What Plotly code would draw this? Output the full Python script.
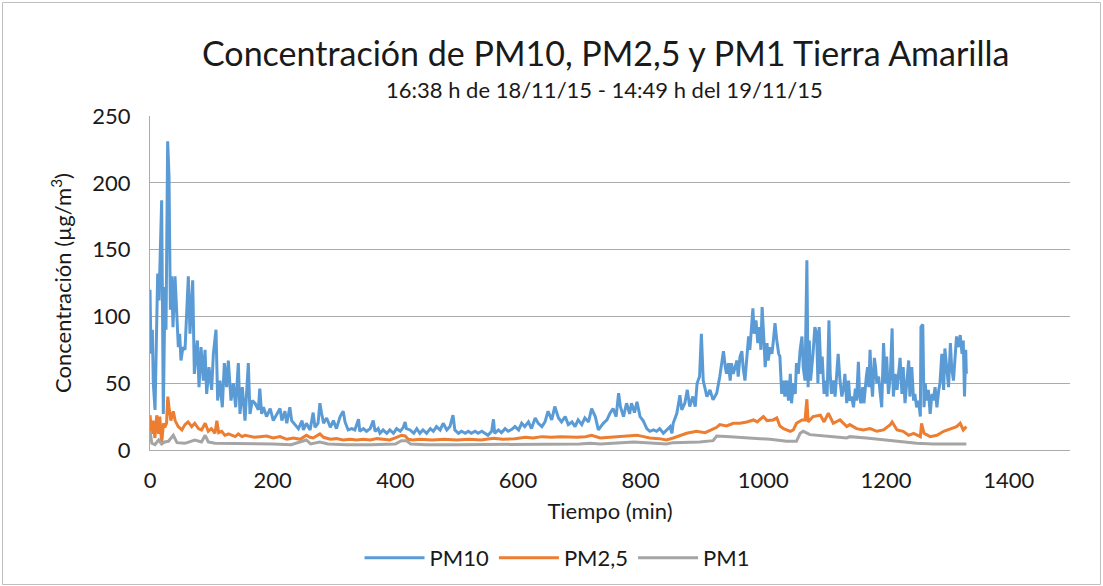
import plotly.graph_objects as go

# ---------------- data ----------------
pm10_t = [0, 1.6, 3.8, 5.4, 8.2, 12.5, 14.7, 19.0, 21.7, 24.5, 26.1, 28.8, 31.0, 33.2, 35.3, 37.5,
          40.8, 44.0, 46.2, 48.4, 50.5, 53.8, 57.1, 62.5, 65.2, 69.6, 72.3, 77.2, 79.9, 83.2, 87.0,
          89.7, 92.4, 96.2, 100.5, 103.3, 107.6, 110.3, 114.1, 117.9, 121.2, 125.0, 127.7, 132.1,
          135.9, 139.7, 144.0, 146.7, 150.5, 154.9, 160.3, 163.0, 166.8, 171.2, 176.6,
          179, 182, 185, 190, 196, 201, 207, 212, 215, 220, 223, 228, 231, 236, 242, 248, 250, 255,
          261, 266, 269, 274, 277, 280, 283, 288, 294, 299, 304, 310, 315, 318, 323, 329, 334, 340,
          342, 348, 353, 359, 364, 367, 372, 375, 380, 386, 391, 397, 402, 408, 413, 416, 418,
          424, 430, 435, 440, 445, 451, 457, 462, 467, 473, 478, 484, 489, 494, 497, 503, 508, 514,
          519, 524, 530, 535, 541, 546, 551, 557, 560, 562, 568, 573, 579, 584, 590, 595, 601, 606,
          611, 617, 622, 628, 633, 639, 644, 649, 655, 660, 666, 671, 677, 682, 688, 693, 698, 704,
          709, 715, 720, 726, 731,
          739, 745, 750, 755, 760, 764, 767, 772, 777, 782, 785, 790, 794, 799, 804, 810, 815, 821,
          826, 831, 837, 842, 848, 851, 853, 859, 864, 867, 872, 876, 880, 885, 889, 892, 896, 899,
          902, 908, 913, 918, 924,
          929, 935, 938, 940, 943, 946, 948, 951, 954, 957, 959, 962, 965, 967, 970, 973, 976, 978,
          981, 983, 985, 988, 991, 994, 996, 998, 1001, 1003, 1006, 1008, 1011, 1014, 1016, 1019,
          1022, 1025, 1027, 1030, 1033, 1035, 1038, 1041, 1044, 1046, 1049, 1052, 1054, 1057, 1060,
          1063, 1065, 1068, 1071, 1073, 1075, 1077, 1081, 1084, 1087, 1089, 1091, 1094, 1096, 1099,
          1102, 1104, 1107, 1109, 1111, 1114, 1117, 1120, 1122, 1125, 1128, 1131, 1133, 1136, 1139,
          1141, 1144, 1147, 1150, 1152, 1155, 1157, 1159, 1162, 1164, 1168, 1170, 1172, 1174, 1176,
          1178, 1181, 1183, 1185, 1188, 1190, 1193, 1196, 1199, 1201, 1204, 1207, 1210, 1212, 1215,
          1218, 1220, 1223, 1226, 1228, 1231, 1234, 1237, 1239, 1242, 1245, 1247, 1250, 1253, 1256,
          1257, 1260, 1262, 1264, 1266, 1269, 1272, 1275, 1277, 1280, 1283, 1286, 1288, 1291, 1294,
          1296, 1299, 1302, 1305, 1307, 1310, 1313, 1315, 1318, 1321, 1324, 1326, 1328, 1330, 1331]
pm10_v = [120, 72, 90, 50, 30, 132, 112, 187, 27, 122, 90, 231, 205, 105, 130, 92,
          130, 100, 77, 87, 67, 77, 75, 130, 87, 127, 57, 82, 47, 77, 52,
          75, 42, 62, 45, 72, 90, 37, 52, 32, 65, 47, 67, 37,
          50, 32, 65, 27, 47, 22, 65, 27, 37, 35, 30,
          46, 27, 32, 25, 31, 22, 27, 31, 22, 29, 20, 32, 22, 19, 16, 22, 15, 20,
          15, 28, 17, 20, 35, 27, 20, 24, 17, 22, 16, 25, 29, 21, 15, 16, 15, 23,
          14, 16, 14, 16, 22, 14, 16, 12.5, 15, 12.5, 15, 12.5, 16, 14, 17, 21, 16,
          15, 12.5, 16, 12.5, 15, 12.5, 16, 14, 17.5, 15, 20, 15, 17.5, 26, 15, 12.5, 14, 12.5,
          14, 12.5, 14, 12.5, 14, 12.5, 11, 14, 23, 12.5, 15, 13, 16, 14, 15.5, 17.5, 15, 20,
          17.5, 21, 16, 24, 20, 17.5, 21, 29, 22.5, 32.5, 24, 21, 25, 19, 21, 17.5, 22.5, 19,
          24, 21, 31, 25, 15,
          20, 22.5, 27.5, 31, 25, 42.5, 32.5, 25, 35, 27, 35, 28, 36, 25, 22, 16, 14, 15,
          14, 16, 12.5, 15, 17.5, 12.5, 20, 27.5, 41, 30, 35, 45, 32.5, 40, 32.5, 50, 55, 87,
          52, 40, 45, 37.5, 42.5,
          55, 74, 62, 57, 65, 52, 65, 57, 62, 67, 55, 70, 74, 62, 52, 70, 85, 75,
          95, 106, 87, 97, 80, 92, 75, 107, 82, 62, 80, 67, 77, 72, 80, 95,
          82, 72, 70, 42, 52, 40, 52, 37, 57, 35, 50, 42, 65, 57, 75,
          85, 62, 52, 142, 47, 82, 52, 72, 92, 87, 50, 92, 57, 70, 42,
          52, 40, 97, 57, 42, 52, 40, 62, 72, 52, 40, 47, 57, 35, 52,
          37, 40, 32, 46, 37, 66, 40, 35, 47, 35, 55, 62, 47, 75, 52,
          40, 69, 62, 50, 55, 45, 32, 80, 50, 70, 42, 55, 91, 40, 57,
          45, 55, 69, 42, 62, 35, 55, 67, 40, 62, 37, 42, 32, 37, 25,
          92, 94, 32, 50, 37, 45, 27, 42, 37, 47, 32, 45, 50, 72, 45,
          76, 62, 47, 80, 62, 52, 70, 85, 77, 86, 72, 82, 40, 75, 57]

pm25_t = [0, 3, 5, 8, 11, 14, 16, 19, 22, 24, 27, 29, 31, 34, 38, 41, 46, 52, 57, 62, 68, 73,
          79, 84, 90, 95, 100, 106, 109, 112, 117, 122, 128, 133, 139, 144, 150, 155, 163, 170,
          179, 190, 201, 212, 223, 234, 245, 255, 261, 266, 277, 283, 294, 304, 315, 326, 337,
          348, 359, 370, 380, 391, 402, 410, 416, 421, 429, 440, 460, 480, 500, 520, 540, 560,
          575, 595, 612, 625, 639, 655, 670, 685, 696, 710, 720, 734, 750, 767, 780, 794, 805,
          815, 830, 842, 853, 864, 875, 891, 905, 915, 924, 929, 940, 951, 962, 973, 984, 990,
          1000, 1006, 1016, 1022, 1027, 1033, 1044, 1049, 1054, 1063, 1068, 1071, 1073, 1081,
          1093, 1099, 1106, 1114, 1125, 1136, 1141, 1152, 1163, 1174, 1185, 1196, 1207, 1210,
          1218, 1228, 1237, 1245, 1256, 1258, 1262, 1272, 1283, 1294, 1305, 1315, 1321, 1326,
          1331]
pm25_v = [26, 12, 22, 9, 26, 12, 25, 5, 20, 17, 20, 40, 32, 22, 29, 22, 17.5, 15, 19, 21,
          17.5, 20, 16, 15, 20, 14, 16, 12.5, 22, 13, 14, 11, 12, 11, 10, 12, 10, 11, 10, 9.5,
          10, 10.5, 9, 10, 8, 9, 8, 11, 9.5, 9, 12, 9.5, 8, 8.5, 7.5, 8, 7.5,
          8, 7.5, 8.5, 8, 7.5, 9.5, 11, 10.5, 8, 7.5, 8, 7.5, 8, 7.5, 8, 7.5, 8.75,
          8, 8.5, 9.5, 9, 10, 9.5, 10, 9.5, 9.5, 10, 11, 9, 9.5, 10, 10.5, 11, 10,
          9, 8.5, 7.5, 9, 11, 12.5, 14, 13, 15, 17, 19, 18, 20, 20, 21, 22.5, 21,
          25, 22, 22.5, 24, 18, 16, 14, 15, 20, 22.5, 22.5, 38, 21, 25,
          26, 21, 27.5, 20, 22.5, 17.5, 19, 16, 15, 16, 14, 15, 19, 21,
          15, 14, 11, 12.5, 10, 20, 12.5, 10, 11, 14, 16, 17.5, 20, 15,
          17.5]

pm1_t = [0, 3, 8, 14, 19, 24, 30, 38, 44, 57, 73, 84, 90, 95, 106, 130, 150, 180, 200, 230,
         255, 262, 277, 290, 320, 360, 400, 410, 418, 425, 450, 500, 560, 600, 650, 700, 718,
         734, 789, 842, 853, 896, 918, 924, 946, 978, 1011, 1038, 1054, 1060, 1065, 1076, 1093,
         1114, 1136, 1141, 1168, 1196, 1223, 1250, 1277, 1305, 1331]
pm1_v = [14, 5, 4, 7.5, 4.5, 6, 6.5, 11, 5.5, 5, 7.5, 6, 11, 6, 5, 5, 4.5, 4.5, 4.5, 4,
         7.5, 4.5, 6, 4.5, 4, 4, 4.5, 7, 7, 4.5, 4, 4, 4, 4, 4.5, 4.5, 5,
         4.5, 6, 4.5, 5.5, 6, 7, 10.5, 10, 9, 8, 6.5, 6.5, 12.5, 14, 11.5, 11,
         10, 9, 10, 9, 7.5, 6, 5, 4.5, 4.5, 4.5]

x_ticks = [0, 200, 400, 600, 800, 1000, 1200, 1400]
y_ticks = [0, 50, 100, 150, 200, 250]

title_text = "Concentración de PM10, PM2,5 y PM1 Tierra Amarilla"
subtitle_text = "16:38 h de 18/11/15 - 14:49 h del 19/11/15"

# ---------------- figure ----------------
FONT = "Lato"
TXT = "#1a1a1a"
GRID = "#ABABAB"

fig = go.Figure()
fig.add_trace(go.Scatter(x=pm10_t, y=pm10_v, mode="lines", name="PM10",
                         line=dict(color="#5B9BD5", width=3)))
fig.add_trace(go.Scatter(x=pm25_t, y=pm25_v, mode="lines", name="PM2,5",
                         line=dict(color="#ED7D31", width=3)))
fig.add_trace(go.Scatter(x=pm1_t, y=pm1_v, mode="lines", name="PM1",
                         line=dict(color="#A5A5A5", width=3)))

fig.update_layout(
    width=1103, height=586,
    margin=dict(l=150, r=33, t=116, b=136),
    paper_bgcolor="white", plot_bgcolor="white",
    font=dict(family=FONT, color=TXT, size=22),
    showlegend=True,
    legend=dict(orientation="h", xref="container", yref="container",
                x=0.505, y=0.048, xanchor="center", yanchor="middle",
                font=dict(size=22, color=TXT), itemwidth=60, tracegroupgap=0),
    xaxis=dict(range=[0, 1500], tickvals=x_ticks, showgrid=False, zeroline=False,
               showline=True, linecolor=GRID, linewidth=1.3, ticks="",
               ticklabelstandoff=10, tickfont=dict(size=22, color=TXT),
               title=dict(text="Tiempo (min)", font=dict(size=22, color=TXT), standoff=12)),
    yaxis=dict(range=[0, 250], tickvals=y_ticks, showgrid=True, gridcolor=GRID,
               gridwidth=1.3, zeroline=False, showline=True, linecolor=GRID,
               linewidth=1.3, ticks="", ticklabelstandoff=14,
               tickfont=dict(size=22, color=TXT),
               title=dict(text="Concentración (µg/m<sup>3</sup>)",
                          font=dict(size=22, color=TXT), standoff=14)),
)

fig.add_annotation(text=title_text, xref="paper", yref="paper",
                   x=(605 - 150) / 920, y=(450 - 52) / 334, showarrow=False,
                   xanchor="center", yanchor="middle",
                   font=dict(family=FONT, size=34, color=TXT))
fig.add_annotation(text=subtitle_text, xref="paper", yref="paper",
                   x=(604 - 150) / 920, y=(450 - 89) / 334, showarrow=False,
                   xanchor="center", yanchor="middle",
                   font=dict(family=FONT, size=22, color=TXT))

# chart-area border
fig.add_shape(type="rect", xref="paper", yref="paper",
              x0=(2.5 - 150) / 920, x1=(1100.5 - 150) / 920,
              y0=(450 - 584.5) / 334, y1=(450 - 2.5) / 334,
              line=dict(color="#BFBFBF", width=1), fillcolor="rgba(0,0,0,0)", layer="below")

fig.write_html("out.html", config={"displayModeBar": False},
               post_script="document.body.style.margin='0';document.body.style.overflow='hidden';")
